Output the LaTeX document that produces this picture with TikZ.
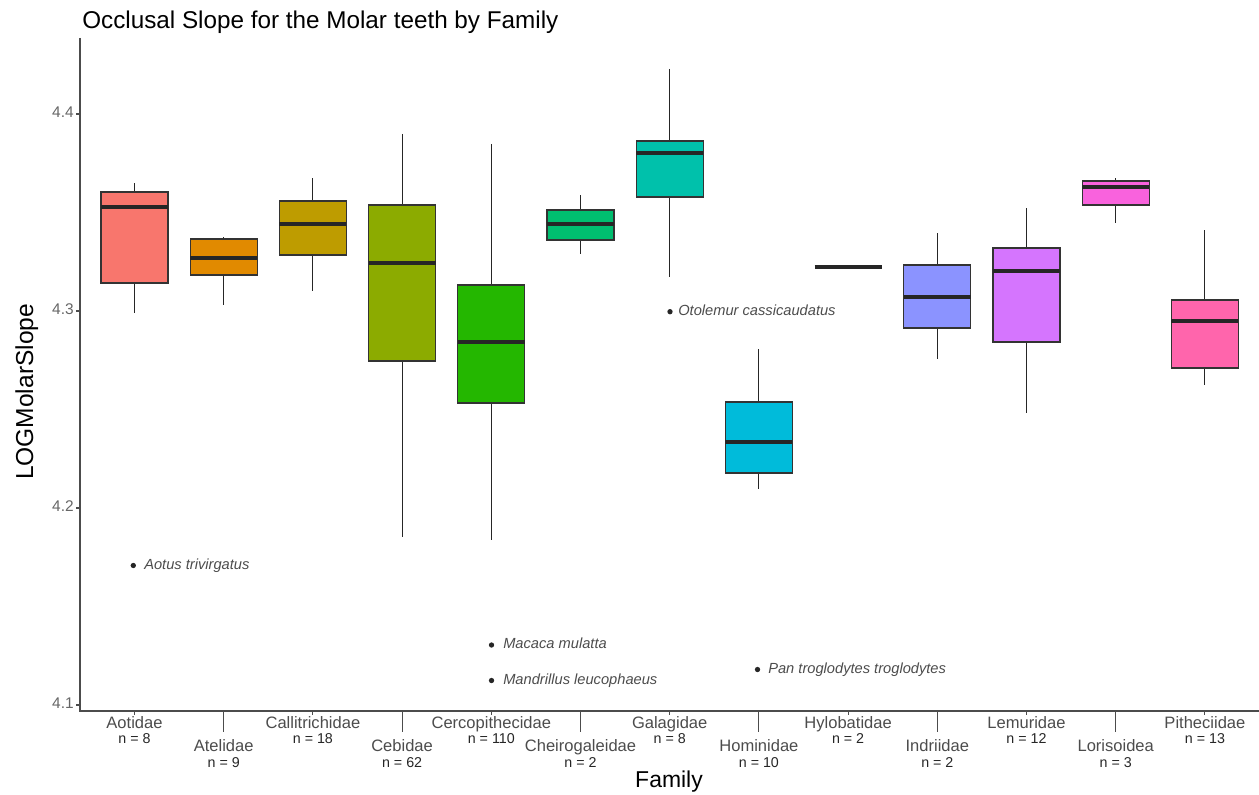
\documentclass[tikz,border=0pt]{standalone}
\usepackage{fontspec}
\setmainfont{Liberation Sans}
\usepackage{xcolor}
\usepackage{tikz}
\usetikzlibrary{positioning}
\definecolor{cAot}{HTML}{F8766D}
\definecolor{cAte}{HTML}{E18A00}
\definecolor{cCal}{HTML}{BE9C00}
\definecolor{cCeb}{HTML}{8CAB00}
\definecolor{cCer}{HTML}{24B700}
\definecolor{cChe}{HTML}{00BE70}
\definecolor{cGal}{HTML}{00C1AB}
\definecolor{cHom}{HTML}{00BBDA}
\definecolor{cHyl}{HTML}{00ACFC}
\definecolor{cInd}{HTML}{8B93FF}
\definecolor{cLem}{HTML}{D575FE}
\definecolor{cLor}{HTML}{F962DD}
\definecolor{cPit}{HTML}{FF65AC}
\tikzset{
    whisk/.style = {draw=black!85, line width=0.8pt},
    boxx/.style = {draw=black!80, line width=0.9pt},
    med/.style = {draw=black!85, line width=2.3pt},
    axisline/.style = {draw=black!70, line width=1.1pt},
    tickl/.style = {draw=black!70, line width=0.8pt},
    ticklab/.style = {font=\fontsize{11.6}{12}\selectfont, text=black!60, inner sep=0pt},
    famlab/.style = {font=\fontsize{12.4}{14}\selectfont, text=black!70, inner sep=0pt, anchor=base},
    nlab/.style = {font=\fontsize{10.7}{12}\selectfont, text=black!85, inner sep=0pt, anchor=base},
    outl/.style = {font=\fontsize{11}{12}\selectfont\itshape, text=black!70, inner sep=0pt, anchor=mid west},
}
\begin{document}
\begin{tikzpicture}[x=0.75pt, y=-0.75pt]
\useasboundingbox (0,0) rectangle (1259,795);
% boxes
\draw[whisk] (134.5,183) -- (134.5,313);
\draw[boxx,fill=cAot] (101.0,192) rectangle (168.0,283);
\draw[med] (101.0,207) -- (168.0,207);
%
\draw[whisk] (223.7,237) -- (223.7,305);
\draw[boxx,fill=cAte] (190.2,239) rectangle (257.2,275);
\draw[med] (190.2,258) -- (257.2,258);
%
\draw[whisk] (312.9,178) -- (312.9,291);
\draw[boxx,fill=cCal] (279.4,201) rectangle (346.4,255);
\draw[med] (279.4,224) -- (346.4,224);
%
\draw[whisk] (402.1,134) -- (402.1,537);
\draw[boxx,fill=cCeb] (368.6,205) rectangle (435.6,361);
\draw[med] (368.6,263) -- (435.6,263);
%
\draw[whisk] (491.3,144) -- (491.3,540);
\draw[boxx,fill=cCer] (457.8,285) rectangle (524.8,403);
\draw[med] (457.8,342) -- (524.8,342);
%
\draw[whisk] (580.5,195) -- (580.5,254);
\draw[boxx,fill=cChe] (547.0,210) rectangle (614.0,240);
\draw[med] (547.0,224) -- (614.0,224);
%
\draw[whisk] (669.7,69) -- (669.7,277);
\draw[boxx,fill=cGal] (636.2,141) rectangle (703.2,197);
\draw[med] (636.2,153) -- (703.2,153);
%
\draw[whisk] (758.9,349) -- (758.9,489);
\draw[boxx,fill=cHom] (725.4,402) rectangle (792.4,473);
\draw[med] (725.4,442) -- (792.4,442);
%
\draw[whisk] (848.1,265) -- (848.1,269);
\draw[med] (814.6,267) -- (881.6,267);
%
\draw[whisk] (937.3,233) -- (937.3,359);
\draw[boxx,fill=cInd] (903.8,265) rectangle (970.8,328);
\draw[med] (903.8,297) -- (970.8,297);
%
\draw[whisk] (1026.5,208) -- (1026.5,413);
\draw[boxx,fill=cLem] (993.0,248) rectangle (1060.0,342);
\draw[med] (993.0,271) -- (1060.0,271);
%
\draw[whisk] (1115.7,178) -- (1115.7,223);
\draw[boxx,fill=cLor] (1082.2,181) rectangle (1149.2,205);
\draw[med] (1082.2,187) -- (1149.2,187);
%
\draw[whisk] (1204.9,230) -- (1204.9,385);
\draw[boxx,fill=cPit] (1171.4,300) rectangle (1238.4,368);
\draw[med] (1171.4,321) -- (1238.4,321);
% outliers
\fill[black!85] (133.3,565.5) circle (2pt) coordinate (o1);
\node[outl] at (144,565.5) (aotus) {Aotus trivirgatus};
\fill[black!85] (670,311.7) circle (2pt) coordinate (o2);
\node[outl] at (678,311.7) (otol) {Otolemur cassicaudatus};
\fill[black!85] (491.5,645) circle (2pt) coordinate (o3);
\node[outl] at (503,645) (maca) {Macaca mulatta};
\fill[black!85] (491.5,680.5) circle (2pt) coordinate (o4);
\node[outl] at (503,680.5) (mand) {Mandrillus leucophaeus};
\fill[black!85] (757.5,669.5) circle (2pt) coordinate (o5);
\node[outl] at (768,669.5) (pan) {Pan troglodytes troglodytes};
% axes
\draw[axisline] (80,38) -- (80,711) -- (1259,711);
\draw[tickl] (76,114) -- (80,114);
\draw[tickl] (76,311) -- (80,311);
\draw[tickl] (76,508) -- (80,508);
\draw[tickl] (76,705) -- (80,705);
\node[ticklab,anchor=mid east] at (74,114) (y44) {4.4};
\node[ticklab,anchor=mid east] at (74,311) (y43) {4.3};
\node[ticklab,anchor=mid east] at (74,508) (y42) {4.2};
\node[ticklab,anchor=mid east] at (74,705) (y41) {4.1};
%
\draw[tickl] (134.5,711) -- (134.5,715);
\draw[tickl] (223.7,711) -- (223.7,732);
\draw[tickl] (312.9,711) -- (312.9,715);
\draw[tickl] (402.1,711) -- (402.1,732);
\draw[tickl] (491.3,711) -- (491.3,715);
\draw[tickl] (580.5,711) -- (580.5,732);
\draw[tickl] (669.7,711) -- (669.7,715);
\draw[tickl] (758.9,711) -- (758.9,732);
\draw[tickl] (848.1,711) -- (848.1,715);
\draw[tickl] (937.3,711) -- (937.3,732);
\draw[tickl] (1026.5,711) -- (1026.5,715);
\draw[tickl] (1115.7,711) -- (1115.7,732);
\draw[tickl] (1204.9,711) -- (1204.9,715);
% family labels
\node[famlab] at (134.5,728) (aot) {Aotidae};
\node[nlab] at (134.5,743) (naot) {n = 8};
\node[famlab] at (223.7,751) (ate) {Atelidae};
\node[nlab] at (223.7,767) (nate) {n = 9};
\node[famlab] at (312.9,728) (cal) {Callitrichidae};
\node[nlab] at (312.9,743) (ncal) {n = 18};
\node[famlab] at (402.1,751) (ceb) {Cebidae};
\node[nlab] at (402.1,767) (nceb) {n = 62};
\node[famlab] at (491.3,728) (cer) {Cercopithecidae};
\node[nlab] at (491.3,743) (ncer) {n = 110};
\node[famlab] at (580.5,751) (che) {Cheirogaleidae};
\node[nlab] at (580.5,767) (nche) {n = 2};
\node[famlab] at (669.7,728) (gal) {Galagidae};
\node[nlab] at (669.7,743) (ngal) {n = 8};
\node[famlab] at (758.9,751) (hom) {Hominidae};
\node[nlab] at (758.9,767) (nhom) {n = 10};
\node[famlab] at (848.1,728) (hyl) {Hylobatidae};
\node[nlab] at (848.1,743) (nhyl) {n = 2};
\node[famlab] at (937.3,751) (ind) {Indriidae};
\node[nlab] at (937.3,767) (nind) {n = 2};
\node[famlab] at (1026.5,728) (lem) {Lemuridae};
\node[nlab] at (1026.5,743) (nlem) {n = 12};
\node[famlab] at (1115.7,751) (lor) {Lorisoidea};
\node[nlab] at (1115.7,767) (nlor) {n = 3};
\node[famlab] at (1204.9,728) (pit) {Pitheciidae};
\node[nlab] at (1204.9,743) (npit) {n = 13};
% titles
\node[font=\fontsize{18.2}{20}\selectfont, inner sep=0pt, anchor=base west] at (82,28.3) (title) {Occlusal Slope for the Molar teeth by Family};
\node[font=\fontsize{17.2}{19}\selectfont, inner sep=0pt, anchor=base] at (669,787) (xlab) {Family};
\node[font=\fontsize{18.4}{20}\selectfont, inner sep=0pt, anchor=base, rotate=90] at (33,392) (ylab) {LOGMolarSlope};
\end{tikzpicture}
\end{document}
